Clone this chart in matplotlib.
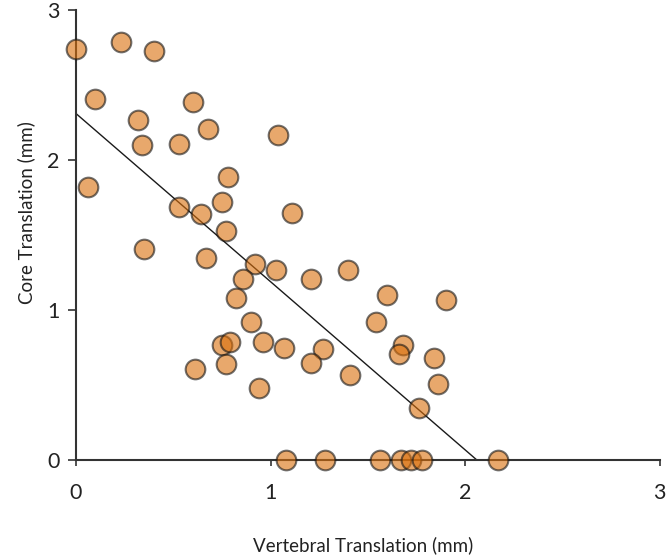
import matplotlib.pyplot as plt

# Vertebral vs core translation (mm)
vertebral = [0.00, 0.23, 0.40, 0.10, 0.60, 0.32, 0.68, 0.34, 0.53, 1.04,
             0.06, 0.78, 0.53, 0.64, 0.75, 1.11, 0.77, 0.35, 0.67, 0.92,
             0.86, 1.03, 1.21, 1.40, 1.60, 1.90, 0.82, 0.90, 1.54, 0.75,
             0.79, 0.96, 1.07, 1.27, 1.21, 0.77, 0.61, 0.94, 1.41, 1.68,
             1.66, 1.84, 1.86, 1.76,
             1.08, 1.28, 1.56, 1.67, 1.72, 1.78, 2.17]
core = [2.74, 2.79, 2.73, 2.41, 2.39, 2.27, 2.21, 2.10, 2.11, 2.17,
        1.82, 1.89, 1.69, 1.64, 1.72, 1.65, 1.53, 1.41, 1.35, 1.31,
        1.21, 1.27, 1.21, 1.27, 1.10, 1.07, 1.08, 0.92, 0.92, 0.77,
        0.79, 0.79, 0.75, 0.74, 0.65, 0.64, 0.61, 0.48, 0.57, 0.77,
        0.71, 0.68, 0.51, 0.35,
        0.0, 0.0, 0.0, 0.0, 0.0, 0.0, 0.0]

# regression line end points
fit_x = [0.0, 2.06]
fit_y = [2.31, 0.0]

ticks = [0, 1, 2, 3]

plt.rcParams['font.family'] = ['Lato', 'DejaVu Sans']

fig = plt.figure(figsize=(6.68, 5.59), dpi=100)
ax = fig.add_axes([0.1138, 0.177, 0.874, 0.805])

ax.plot(fit_x, fit_y, color='#1a1a1a', linewidth=1.0, zorder=2)
ax.scatter(vertebral, core, s=200, facecolor=(0.85, 0.43, 0.04), alpha=0.6,
           edgecolor='#151515', linewidth=1.5, zorder=3, clip_on=False)

ax.set_xlim(0, 3)
ax.set_ylim(0, 3)
ax.set_xticks(ticks)
ax.set_yticks(ticks)
ax.spines['top'].set_visible(False)
ax.spines['right'].set_visible(False)
for side in ['left', 'bottom']:
    ax.spines[side].set_color('#333333')
    ax.spines[side].set_linewidth(1.5)
ax.tick_params(axis='x', length=4.5, width=1.2, color='#333333', pad=12,
               labelsize=15.5, labelcolor='#222222')
ax.tick_params(axis='y', length=5.8, width=1.2, color='#333333', pad=6,
               labelsize=15.5, labelcolor='#222222')

ax.set_xlabel('Vertebral Translation (mm)', fontsize=13.5, color='#222222')
ax.set_ylabel('Core Translation (mm)', fontsize=13.5, color='#222222')
ax.xaxis.set_label_coords(0.491, -0.17)
ax.yaxis.set_label_coords(-0.07, 0.551)

fig.savefig('out.png', dpi=100)
